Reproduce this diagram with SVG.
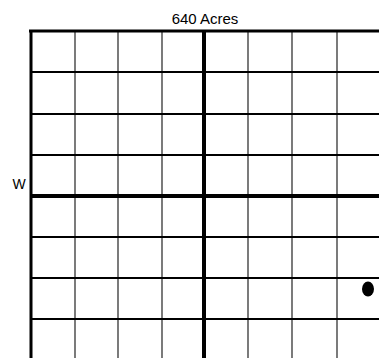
<svg xmlns="http://www.w3.org/2000/svg" width="379" height="358" viewBox="0 0 379 358">
<style>
.t{font-family:"Liberation Sans",Arial,sans-serif;fill:#000}
.v{stroke:#333;stroke-width:1.3}
.h{stroke:#000;stroke-width:2}
.k{stroke:#000;stroke-width:4}
.b{stroke:#000;stroke-width:3}
</style>
<rect width="379" height="358" fill="#fff"/>
<g id="labels">
<text class="t" x="205" y="24" font-size="15" text-anchor="middle">640 Acres</text>
<text class="t" x="19" y="189" font-size="14" text-anchor="middle">W</text>
</g>
<g id="grid">
<line class="v" x1="75" y1="31" x2="75" y2="358"/>
<line class="v" x1="118" y1="31" x2="118" y2="358"/>
<line class="v" x1="162" y1="31" x2="162" y2="358"/>
<line class="v" x1="248" y1="31" x2="248" y2="358"/>
<line class="v" x1="292" y1="31" x2="292" y2="358"/>
<line class="v" x1="337" y1="31" x2="337" y2="358"/>
<line class="h" x1="30" y1="72" x2="379" y2="72"/>
<line class="h" x1="30" y1="114" x2="379" y2="114"/>
<line class="h" x1="30" y1="155" x2="379" y2="155"/>
<line class="h" x1="30" y1="237" x2="379" y2="237"/>
<line class="h" x1="30" y1="278" x2="379" y2="278"/>
<line class="h" x1="30" y1="319" x2="379" y2="319"/>
<line class="k" x1="30" y1="196" x2="379" y2="196"/>
<line class="k" x1="204" y1="31" x2="204" y2="358"/>
<line class="b" x1="29" y1="31" x2="379" y2="31"/>
<line class="b" x1="31" y1="30" x2="31" y2="358"/>
</g>
<g id="dot">
<ellipse cx="368" cy="289" rx="6" ry="7.5" fill="#000"/>
</g>
</svg>
